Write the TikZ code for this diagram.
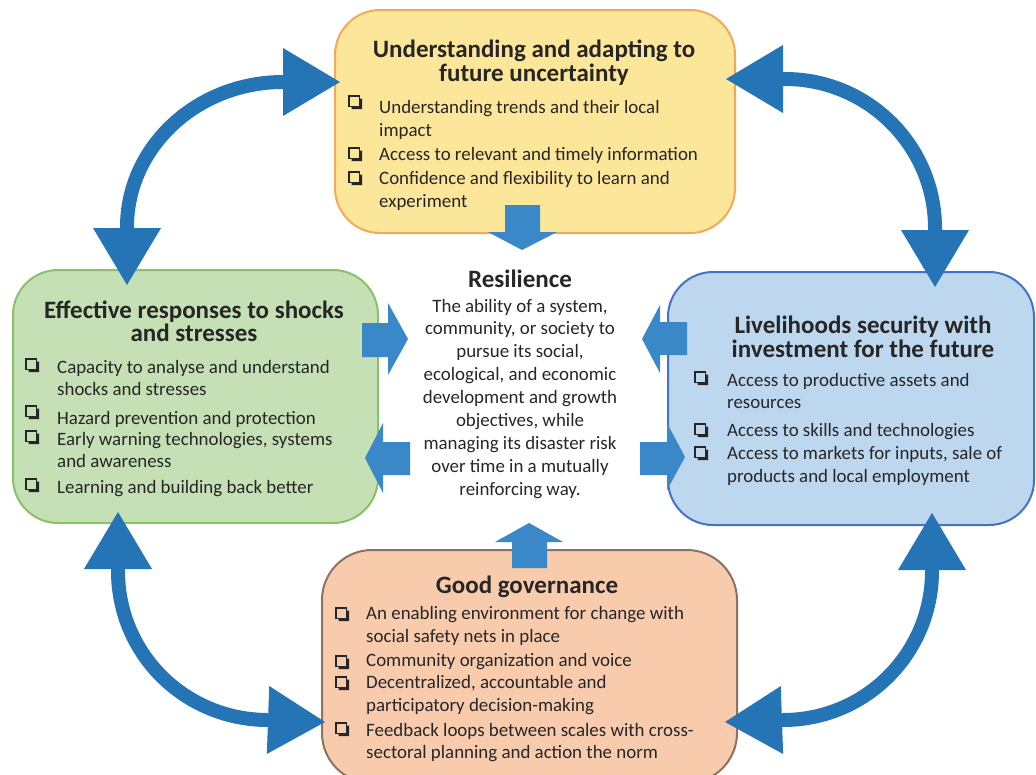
\documentclass[tikz,border=0pt]{standalone}
\usepackage{fontspec}
\setmainfont{Carlito}
\usetikzlibrary{arrows.meta}

\definecolor{ink}{HTML}{262626}
\definecolor{yelfill}{HTML}{FCE699}
\definecolor{yeldraw}{HTML}{F4A95A}
\definecolor{grnfill}{HTML}{C5E0B4}
\definecolor{grndraw}{HTML}{8CC068}
\definecolor{blufill}{HTML}{BDD7EE}
\definecolor{bludraw}{HTML}{4472C4}
\definecolor{orgfill}{HTML}{F8CBAD}
\definecolor{orgdraw}{HTML}{8B7262}
\definecolor{flowblue}{HTML}{3B88C8}
\definecolor{loopblue}{HTML}{2574B6}

\tikzset{
  panel/.style={rounded corners=45, line width=2, inner sep=0, outer sep=0},
  body/.style={font=\fontsize{18.9}{23}\selectfont, text=ink, inner sep=0, anchor=base west},
  bodyc/.style={font=\fontsize{18.9}{23}\selectfont, text=ink, inner sep=0, anchor=base},
  head/.style={font=\fontsize{25}{27}\selectfont\bfseries, text=ink, inner sep=0, anchor=base},
  flow/.style={fill=flowblue},
  cyclearrow/.style={draw=loopblue, line width=14,
    arrows={Triangle[length=57pt,width=68pt,line width=0pt]-Triangle[length=57pt,width=68pt,line width=0pt]}},
  cbox/.pic={
    \draw[ink, line width=1.8] (-6,-6) rectangle (4.5,4.5);
    \fill[ink] (-3.5,4.5) -- (4.5,4.5) -- (4.5,-3.5) -- (7,-3.5) -- (7,7) -- (-3.5,7) -- cycle;
  }
}

\begin{document}
\begin{tikzpicture}[x=1pt,y=-1pt]
\clip (0,0) rectangle (1036,774);

% the four panels
\node[panel, draw=yeldraw, fill=yelfill, minimum width=400, minimum height=223] (future) at (535,121.5) {};
\node[panel, draw=grndraw, fill=grnfill, minimum width=365, minimum height=253] (shocks) at (195.5,396.5) {};
\node[panel, draw=bludraw, fill=blufill, minimum width=366, minimum height=253] (liveli) at (851,398.5) {};
\node[panel, rounded corners=50, draw=orgdraw, fill=orgfill, minimum width=415, minimum height=233] (gov) at (529.5,666.5) {};

% top panel text
\foreach \yy/\t [count=\i] in {57/Understanding and adapting to, 81/future uncertainty}
  \node[head] (futh\i) at (534,\yy) {\t};
\foreach \yy/\t [count=\i] in {113/Understanding trends and their local, 136/impact,
    160/Access to relevant and timely information, 184/Confidence and flexibility to learn and, 207/experiment}
  \node[body] (futb\i) at (379,\yy) {\t};
\foreach \yy in {102,154,178} \pic at (355,\yy) {cbox};

% left panel text
\foreach \yy/\t [count=\i] in {318/Effective responses to shocks, 341/and stresses}
  \node[head] (shoh\i) at (194,\yy) {\t};
\foreach \yy/\t [count=\i] in {373/Capacity to analyse and understand, 395/shocks and stresses,
    424/Hazard prevention and protection, 445/{Early warning technologies, systems},
    467/and awareness, 493/Learning and building back better}
  \node[body] (shob\i) at (57,\yy) {\t};
\foreach \yy in {365,412,437,485} \pic at (32,\yy) {cbox};

% right panel text
\foreach \yy/\t [count=\i] in {333/Livelihoods security with, 357/investment for the future}
  \node[head] (livh\i) at (863,\yy) {\t};
\foreach \yy/\t [count=\i] in {386/Access to productive assets and, 408/resources,
    436/Access to skills and technologies, 459/{Access to markets for inputs, sale of},
    482/products and local employment}
  \node[body] (livb\i) at (727,\yy) {\t};
\foreach \yy in {378,430,453} \pic at (701,\yy) {cbox};

% bottom panel text
\node[head] (govh) at (527,593) {Good governance};
\foreach \yy/\t [count=\i] in {619/An enabling environment for change with, 642/social safety nets in place,
    666/Community organization and voice, 688/{Decentralized, accountable and},
    711/participatory decision-making, 736/Feedback loops between scales with cross-,
    758/sectoral planning and action the norm}
  \node[body] (govb\i) at (366,\yy) {\t};
\foreach \yy in {614,662,683,729} \pic at (342,\yy) {cbox};

% centre definition
\node[head] (res) at (520,287) {Resilience};
\foreach \yy/\t [count=\i] in {312/{The ability of a system,}, 334/{community, or society to},
    357/{pursue its social,}, 380/{ecological, and economic}, 403/development and growth,
    426/{objectives, while}, 449/managing its disaster risk, 472/over time in a mutually,
    495/reinforcing way.}
  \node[bodyc] (resb\i) at (520,\yy) {\t};

% block arrows between the panels and the centre
\fill[flow] (505,205) -- (540,205) -- (540,232) -- (557,232) -- (522,250) -- (488,232) -- (505,232) -- cycle;
\fill[flow] (512,568) -- (547,568) -- (547,542) -- (563,542) -- (529,523) -- (495,542) -- (512,542) -- cycle;
\fill[flow] (362,323) -- (388,323) -- (388,303) -- (408,339) -- (388,375) -- (388,357) -- (362,357) -- cycle;
\fill[flow] (410,442) -- (383,442) -- (383,423) -- (365,458) -- (383,493) -- (383,475) -- (410,475) -- cycle;
\fill[flow] (687,322) -- (660,322) -- (660,305) -- (642,339) -- (660,373) -- (660,355) -- (687,355) -- cycle;
\fill[flow] (640,442) -- (667,442) -- (667,423) -- (685,457) -- (667,490) -- (667,475) -- (640,475) -- cycle;

% curved two-way arrows linking neighbouring panels
\coordinate (tlA) at (127,285); \coordinate (tlB) at (340,82);
\coordinate (trA) at (726,79);  \coordinate (trB) at (935,287);
\coordinate (blA) at (118,512); \coordinate (blB) at (325,722);
\coordinate (brA) at (932,513); \coordinate (brB) at (725,722);
\draw[cyclearrow] (tlA) -- (127,227) .. controls (127,147) and (197,82) .. (283,82) -- (tlB);
\draw[cyclearrow] (trA) -- (785,79) .. controls (868,79) and (935,146) .. (935,228) -- (trB);
\draw[cyclearrow] (blA) -- (118,571) .. controls (118,654) and (185,720) .. (268,720) -- (blB);
\draw[cyclearrow] (brA) -- (932,571) .. controls (932,653) and (866,720) .. (783,720) -- (brB);
\end{tikzpicture}
\end{document}
